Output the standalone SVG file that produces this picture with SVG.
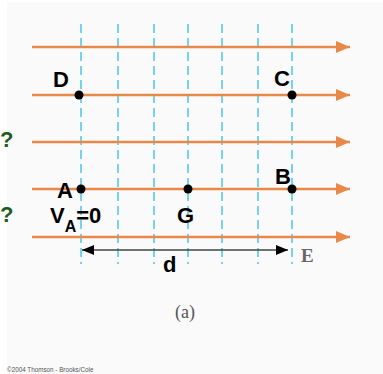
<svg xmlns="http://www.w3.org/2000/svg" width="383" height="374" viewBox="0 0 383 374">
<defs>
<style>
.field{stroke:#e8894a;stroke-width:2.5;fill:none}
.equi{stroke:#4cc6e6;stroke-width:1.5;stroke-dasharray:9 5;fill:none}
.lbl{font-family:"Liberation Sans",Arial,sans-serif;font-weight:bold;font-size:22px;fill:#000}
.q{font-family:"Liberation Sans",Arial,sans-serif;font-weight:bold;font-size:22px;fill:#1e5b1e}
.dot{fill:#000}
</style>
<marker id="oa" markerUnits="userSpaceOnUse" markerWidth="14" markerHeight="12" refX="14" refY="6" orient="auto">
<path d="M0,0 L14,6 L0,12 Z" fill="#e8894a"/>
</marker>
<marker id="ka" markerUnits="userSpaceOnUse" markerWidth="12" markerHeight="10" refX="12" refY="5" orient="auto-start-reverse">
<path d="M0,0 L12,5 L0,10 Z" fill="#000"/>
</marker>
</defs>
<rect x="0" y="0" width="383" height="374" fill="#ffffff"/>
<rect x="7" y="2" width="376" height="372" fill="#fafafa"/>
<g id="equipotentials">
<line class="equi" x1="81" y1="24" x2="81" y2="264"/>
<line class="equi" x1="118" y1="24" x2="118" y2="264"/>
<line class="equi" x1="154" y1="24" x2="154" y2="264"/>
<line class="equi" x1="188" y1="24" x2="188" y2="264"/>
<line class="equi" x1="222" y1="24" x2="222" y2="264"/>
<line class="equi" x1="258" y1="24" x2="258" y2="264"/>
<line class="equi" x1="292" y1="24" x2="292" y2="264"/>
</g>
<g id="connectors">
<line class="field" x1="32" y1="47" x2="350" y2="47" marker-end="url(#oa)"/>
<line class="field" x1="32" y1="95" x2="350" y2="95" marker-end="url(#oa)"/>
<line class="field" x1="32" y1="142" x2="350" y2="142" marker-end="url(#oa)"/>
<line class="field" x1="32" y1="189" x2="350" y2="189" marker-end="url(#oa)"/>
<line class="field" x1="32" y1="237" x2="350" y2="237" marker-end="url(#oa)"/>
<line x1="82" y1="250" x2="288" y2="250" stroke="#444" stroke-width="1.5" marker-start="url(#ka)" marker-end="url(#ka)"/>
</g>
<g id="D"><circle class="dot" cx="79" cy="95" r="4.5"/><text class="lbl" x="53" y="87">D</text></g>
<g id="C"><circle class="dot" cx="292" cy="95" r="4.5"/><text class="lbl" x="274" y="86">C</text></g>
<g id="A"><circle class="dot" cx="81" cy="189" r="4.5"/><text class="lbl" x="57" y="198">A</text>
<text class="lbl" x="50" y="223">V<tspan font-size="16" dy="9">A</tspan><tspan dy="-9">=0</tspan></text></g>
<g id="G"><circle class="dot" cx="188" cy="189" r="4.5"/><text class="lbl" x="177" y="223">G</text></g>
<g id="B"><circle class="dot" cx="292" cy="189" r="4.5"/><text class="lbl" x="275" y="184">B</text></g>
<g id="labels">
<text class="q" x="0" y="147">?</text>
<text class="q" x="0" y="222">?</text>
<text class="lbl" x="163" y="272">d</text>
<text x="301" y="262" font-family="'Liberation Serif','Times New Roman',serif" font-weight="bold" font-size="19" fill="#666">E</text>
<text x="175" y="318" font-family="'Liberation Serif','Times New Roman',serif" font-size="18" fill="#555">(a)</text>
<text x="7" y="372" font-family="'Liberation Sans',Arial,sans-serif" font-size="6.3" fill="#555">©2004 Thomson - Brooks/Cole</text>
</g>
</svg>
